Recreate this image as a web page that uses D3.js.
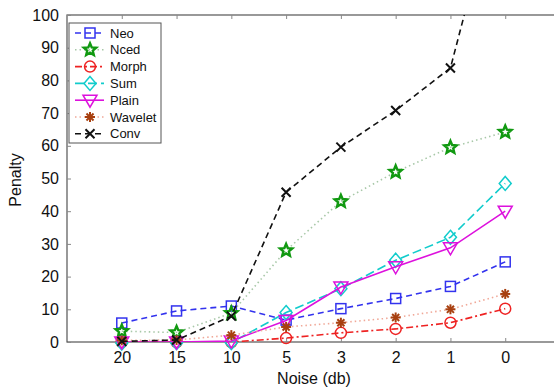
<!DOCTYPE html>
<html>
<head>
<meta charset="utf-8">
<script src="https://cdn.jsdelivr.net/npm/d3@7"></script>
<style>
  body { margin: 0; background: #fff; }
  svg { display: block; font-family: "Liberation Sans", Arial, sans-serif; }
</style>
</head>
<body>
<div id="chart"></div>
<script>
var noise = ["20", "15", "10", "5", "3", "2", "1", "0"];

var neo     = [5.8, 9.5, 11, 6.7, 10.2, 13.3, 17, 24.5];
var nced    = [3.3, 2.9, 8.8, 28, 43, 52, 59.5, 64.2];
var morph   = [0, 0, 0, 1.2, 2.8, 4, 5.9, 10.2];
var sum     = [-0.3, -0.2, -0.2, 9, 16.3, 25, 32, 48.5];
var plain   = [0, 0, 0.3, 6.6, 16.8, 23, 28.8, 40];
var wavelet = [0.5, 0.6, 2.1, 4.6, 5.9, 7.5, 10, 14.7];
var conv    = [0.2, 0.6, 7.9, 45.8, 59.6, 70.8, 83.8, 148];

var yTicks = [0, 10, 20, 30, 40, 50, 60, 70, 80, 90, 100];

var series = [
  { name: "Neo", values: neo, color: "#3333ee", line: "#3333ee", dash: "6,4", marker: "square" },
  { name: "Nced", values: nced, color: "#119911", line: "#a8c8a8", dash: "1.5,3", marker: "star" },
  { name: "Morph", values: morph, color: "#ee2222", line: "#ee2222", dash: "7,3,2,3", marker: "circle" },
  { name: "Sum", values: sum, color: "#11cccc", line: "#11cccc", dash: "9,4", marker: "diamond" },
  { name: "Plain", values: plain, color: "#dd11dd", line: "#dd11dd", dash: null, marker: "tri" },
  { name: "Wavelet", values: wavelet, color: "#a84010", line: "#f0a898", dash: "1.5,3", marker: "ast" },
  { name: "Conv", values: conv, color: "#111111", line: "#111111", dash: "6,4", marker: "x" }
];

var width = 554, height = 391;
var plotL = 67, plotT = 15, plotB = 342, plotR = 560;

var svg = d3.select("#chart").append("svg")
  .attr("width", width)
  .attr("height", height);

var x = d3.scaleLinear().domain([0, 9]).range([plotL, plotR]);
var y = d3.scaleLinear().domain([0, 100]).range([plotB, plotT]);

svg.append("clipPath").attr("id", "clip")
  .append("rect")
  .attr("x", plotL).attr("y", plotT)
  .attr("width", plotR - plotL).attr("height", plotB - plotT);

// frame
svg.append("rect")
  .attr("x", plotL).attr("y", plotT)
  .attr("width", plotR - plotL).attr("height", plotB - plotT)
  .attr("fill", "none").attr("stroke", "#555").attr("stroke-width", 1.2);

svg.append("g")
  .attr("transform", "translate(0," + plotB + ")")
  .call(d3.axisBottom(x)
    .tickValues(d3.range(1, 9))
    .tickFormat(function (d) { return noise[d - 1]; })
    .tickSizeInner(-4).tickSizeOuter(0).tickPadding(10));

svg.append("g")
  .attr("transform", "translate(0," + plotT + ")")
  .call(d3.axisTop(x).tickValues(d3.range(1, 9)).tickFormat("")
    .tickSizeInner(-4).tickSizeOuter(0));

svg.append("g")
  .attr("transform", "translate(" + plotL + ",0)")
  .call(d3.axisLeft(y).tickValues(yTicks)
    .tickSizeInner(-4).tickSizeOuter(0).tickPadding(8));

svg.selectAll(".domain").remove();
svg.selectAll(".tick line").attr("stroke", "#888");
svg.selectAll(".tick text")
  .attr("fill", "#111")
  .style("font-size", "16px")
  .style("font-family", "Liberation Sans, Arial, sans-serif");

svg.append("text")
  .attr("x", 314).attr("y", 384)
  .attr("text-anchor", "middle")
  .style("font-size", "16px").attr("fill", "#111")
  .text("Noise (db)");

svg.append("text")
  .attr("transform", "translate(21,180) rotate(-90)")
  .attr("text-anchor", "middle")
  .style("font-size", "16px").attr("fill", "#111")
  .text("Penalty");

function starPath(r) {
  var pts = [];
  for (var i = 0; i < 10; i++) {
    var a = -Math.PI / 2 + i * Math.PI / 5;
    var rr = i % 2 ? r * 0.45 : r;
    pts.push([rr * Math.cos(a), rr * Math.sin(a)]);
  }
  return "M" + pts.join("L") + "Z";
}

function drawMarker(g, type, color) {
  var sw = 1.5;
  if (type === "square") {
    g.append("rect").attr("x", -5).attr("y", -5).attr("width", 10).attr("height", 10)
      .attr("fill", "none").attr("stroke", color).attr("stroke-width", sw);
  } else if (type === "star") {
    g.append("path").attr("d", starPath(6.5))
      .attr("fill", "none").attr("stroke", color).attr("stroke-width", 2.4);
  } else if (type === "circle") {
    g.append("circle").attr("r", 5.5)
      .attr("fill", "none").attr("stroke", color).attr("stroke-width", sw);
  } else if (type === "diamond") {
    g.append("path").attr("d", "M0,-7L6,0L0,7L-6,0Z")
      .attr("fill", "none").attr("stroke", color).attr("stroke-width", sw);
  } else if (type === "tri") {
    g.append("path").attr("d", "M-7,-5L7,-5L0,7Z")
      .attr("fill", "none").attr("stroke", color).attr("stroke-width", sw);
  } else if (type === "ast") {
    [0, 45, 90, 135].forEach(function (a) {
      g.append("line").attr("x1", -5).attr("x2", 5)
        .attr("transform", "rotate(" + a + ")")
        .attr("stroke", color).attr("stroke-width", 2);
    });
  } else if (type === "x") {
    g.append("path").attr("d", "M-4.5,-4.5L4.5,4.5M-4.5,4.5L4.5,-4.5")
      .attr("stroke", color).attr("stroke-width", 2);
  }
}

var line = d3.line()
  .x(function (d, i) { return x(i + 1); })
  .y(function (d) { return y(d); });

series.forEach(function (s) {
  var g = svg.append("g");
  var p = g.append("path")
    .attr("clip-path", "url(#clip)")
    .attr("d", line(s.values))
    .attr("fill", "none")
    .attr("stroke", s.line)
    .attr("stroke-width", 1.6);
  if (s.dash) p.attr("stroke-dasharray", s.dash);

  s.values.forEach(function (v, i) {
    if (v > 100) return;
    var m = g.append("g").attr("transform", "translate(" + x(i + 1) + "," + y(v) + ")");
    drawMarker(m, s.marker, s.color);
  });
});

// legend
var lg = svg.append("g").attr("transform", "translate(69,23)");
lg.append("rect").attr("width", 92).attr("height", 120)
  .attr("fill", "#fff").attr("stroke", "#555").attr("stroke-width", 1);

series.forEach(function (s, i) {
  var yy = 10 + i * 16.8;
  var l = lg.append("line")
    .attr("x1", 6).attr("x2", 35).attr("y1", yy).attr("y2", yy)
    .attr("stroke", s.line).attr("stroke-width", 1.6);
  if (s.dash) l.attr("stroke-dasharray", s.dash);
  var m = lg.append("g").attr("transform", "translate(21," + yy + ")");
  drawMarker(m, s.marker, s.color);
  lg.append("text")
    .attr("x", 41).attr("y", yy + 4.5)
    .style("font-size", "13px").attr("fill", "#111")
    .text(s.name);
});
</script>
</body>
</html>
